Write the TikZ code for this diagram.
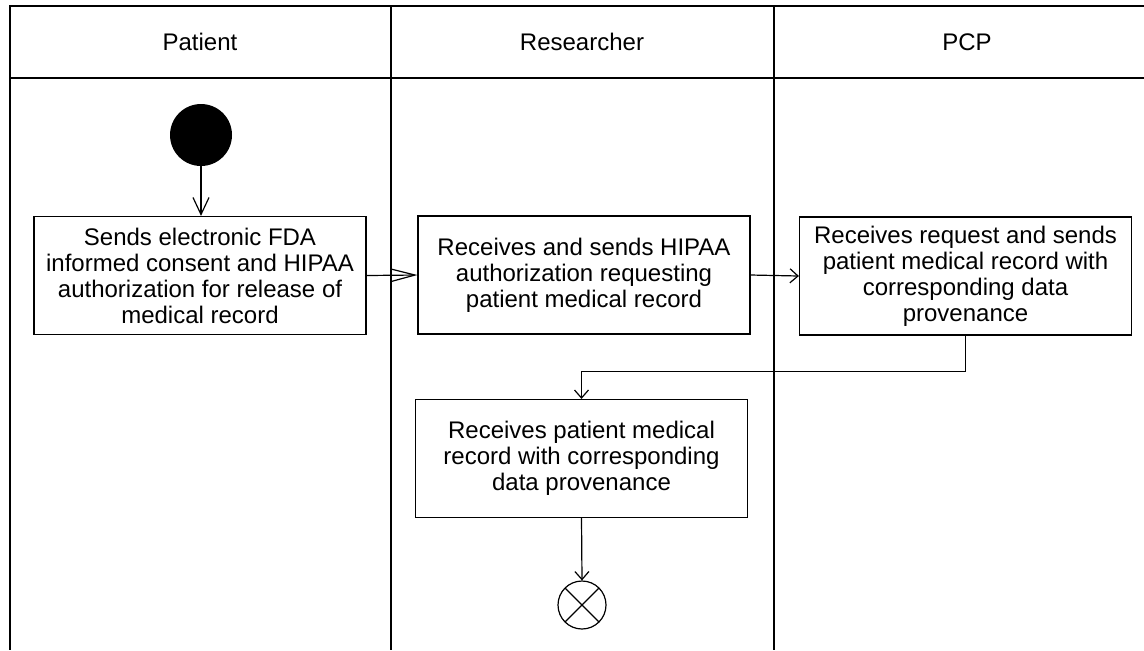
\documentclass[tikz,border=0pt]{standalone}
\usepackage{fontspec}
\setmainfont{Liberation Sans}
\usetikzlibrary{arrows.meta}

\begin{document}
\begin{tikzpicture}[x=0.5pt,y=-0.5pt]
\tikzset{lane/.style={line width=0.6pt}}
\tikzset{lanetitle/.style={font=\fontsize{12}{13}\selectfont}}
\tikzset{act/.style={draw, line width=0.6pt, minimum width=166pt, minimum height=59pt,
    align=center, inner sep=2pt, font=\fontsize{12}{13}\selectfont}}
\tikzset{flow/.style={line width=0.6pt, -{Straight Barb[length=4pt,width=7pt]}}}
\tikzset{flowlong/.style={line width=0.6pt, -{Straight Barb[length=8.5pt,width=8pt]}}}
\useasboundingbox (0,0) rectangle (1144,650);
% swimlanes
\draw[lane] (1144,6) -- (10,6) -- (10,650);
\draw[lane] (10,78) -- (1144,78);
\draw[lane] (391,6) -- (391,650);
\draw[line width=1pt] (774,6) -- (774,650);
\node[lanetitle] (patient) at (200,42) {Patient};
\node[lanetitle] (researcher) at (582,42) {Researcher};
\node[lanetitle] (pcp) at (967,42) {PCP};
% activities
\node[circle, fill, minimum size=31pt, inner sep=0pt] (start) at (201,135) {};
\node[act] (send) at (200,275.5) {Sends electronic FDA\\informed consent and HIPAA\\authorization for release of\\medical record};
\node[act] (auth) at (584,275) {Receives and sends HIPAA\\authorization requesting\\patient medical record};
\node[act] (req) at (965.5,276) {Receives request and sends\\patient medical record with\\corresponding data\\provenance};
\node[act] (recv) at (581.5,458.5) {Receives patient medical\\record with corresponding\\data provenance};
\node[circle, draw, line width=0.6pt, minimum size=24pt, inner sep=0pt,
    path picture={\draw[line width=0.6pt] (path picture bounding box.north west) -- (path picture bounding box.south east)
        (path picture bounding box.south west) -- (path picture bounding box.north east);}] (stop) at (582,605) {};
% flows
\draw[flowlong] (start) -- (start |- send.north);
\draw[line width=0.6pt, -{Straight Barb[length=11.5pt,width=6pt]}] (send.east) -- (auth.west);
\draw[flow] (auth.east) -- (req.west);
\draw[flow] (req.south) -- ++(0,36) -| (recv.north);
\draw[flow] (recv.south) -- (stop.north);
\end{tikzpicture}
\end{document}
